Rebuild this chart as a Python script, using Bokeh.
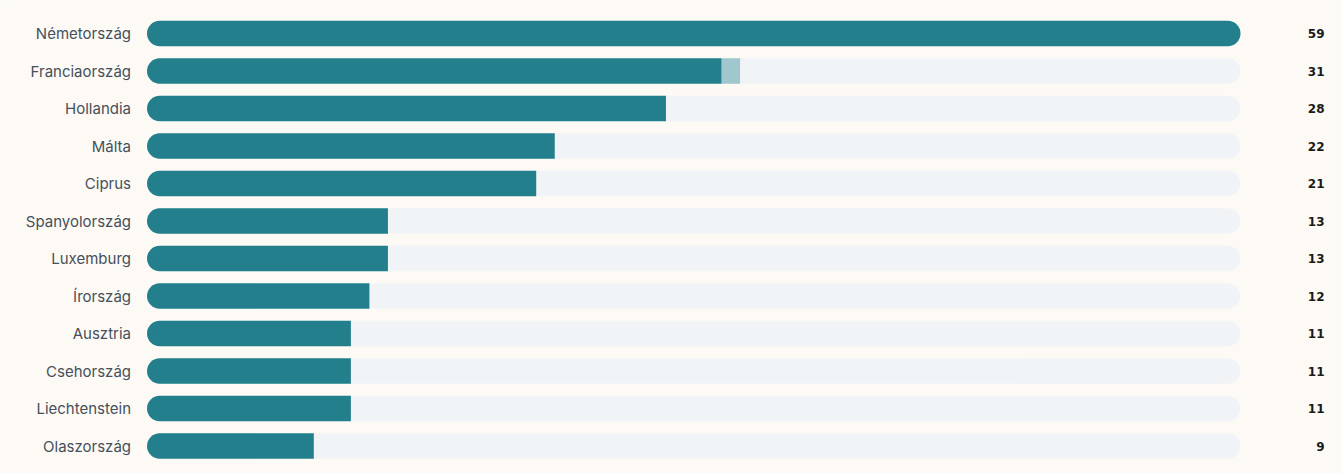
from bokeh.plotting import figure
from bokeh.models import Range1d, ColumnDataSource
from bokeh.core.properties import value
from bokeh.embed import file_html
from bokeh.resources import INLINE

countries = ["Németország", "Franciaország", "Hollandia", "Málta", "Ciprus",
             "Spanyolország", "Luxemburg", "Írország", "Ausztria", "Csehország",
             "Liechtenstein", "Olaszország"]
primary = [59, 31, 28, 22, 21, 13, 13, 12, 11, 11, 11, 9]
secondary = [0, 1, 0, 0, 0, 0, 0, 0, 0, 0, 0, 0]
labels = [str(v) for v in primary]

max_v = max(p + s for p, s in zip(primary, secondary))
n = len(countries)
ypos = list(range(n))

BG = "#fdfaf5"
TEAL = "#227f8b"
LIGHT = "#a0c7cd"
TRACK = "#f1f4f7"

W, H = 1341, 473
x0 = 146.5
px_per = (1240 - x0) / max_v
row = 37.5

p = figure(width=W, height=H, output_backend="svg", toolbar_location=None,
           x_range=Range1d(-x0 / px_per, (W - x0) / px_per),
           y_range=Range1d((H - 33) / row, -33 / row),
           min_border=0, background_fill_color=BG, border_fill_color=BG,
           outline_line_color=None)
p.axis.visible = False
p.grid.visible = False

src = ColumnDataSource(dict(y=ypos, name=countries, prim=primary,
                            tot=[a + b for a, b in zip(primary, secondary)],
                            lab=labels, full=[max_v] * n, zero=[0] * n))

bh = 0.68
p.hbar(y="y", left="zero", right="full", height=bh, source=src,
       fill_color=TRACK, line_color=None, border_radius=13)
p.hbar(y="y", left="prim", right="tot", height=bh, source=src,
       fill_color=LIGHT, line_color=None)

full_idx = [i for i in range(n) if primary[i] >= max_v]
part_idx = [i for i in range(n) if primary[i] < max_v]
p.hbar(y=[ypos[i] for i in part_idx], left=0, right=[primary[i] for i in part_idx],
       height=bh, fill_color=TEAL, line_color=None, border_radius=(13, 0, 0, 13))
p.hbar(y=[ypos[i] for i in full_idx], left=0, right=[primary[i] for i in full_idx],
       height=bh, fill_color=TEAL, line_color=None, border_radius=13)

p.text(x="zero", y="y", text="name", source=src, x_offset=-16,
       text_align="right", text_baseline="middle", text_font=value("Inter"),
       text_font_size="15px", text_color="#45505b")
p.text(x="full", y="y", text="lab", source=src, x_offset=84,
       text_align="right", text_baseline="middle", text_font=value("DejaVu Sans"),
       text_font_size="12px", text_font_style="bold", text_color="#1a1a1a")

open("out.html", "w").write(file_html(p, INLINE))
